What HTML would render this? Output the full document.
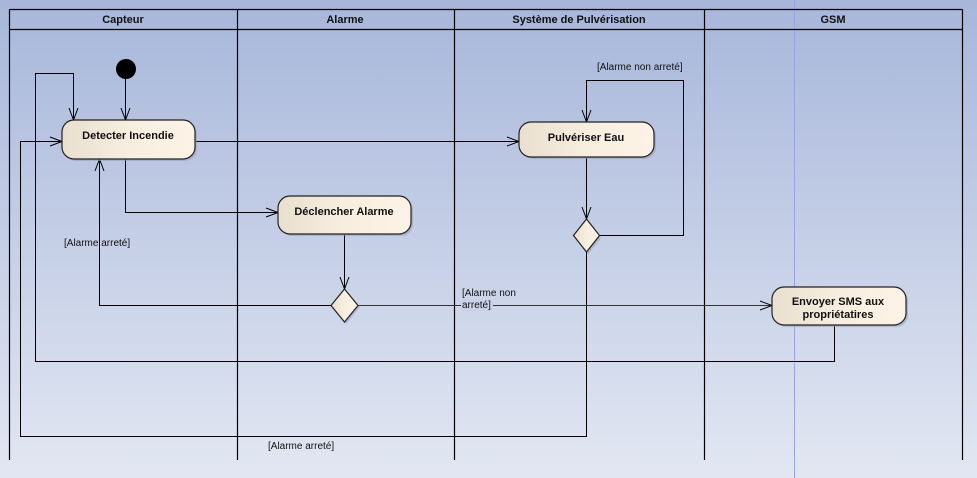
<!DOCTYPE html>
<html><head><meta charset="utf-8"><style>
html,body{margin:0;padding:0;width:977px;height:478px;overflow:hidden}
svg{display:block;font-family:"Liberation Sans",sans-serif}
</style></head><body>
<svg width="977" height="478" viewBox="0 0 977 478" xmlns="http://www.w3.org/2000/svg">
<defs>
<linearGradient id="bg" x1="0" y1="0" x2="0" y2="1"><stop offset="0" stop-color="#a7b6da"/><stop offset="1" stop-color="#e2e7f2"/></linearGradient>
<linearGradient id="nf" x1="0" y1="0" x2="1" y2="0"><stop offset="0" stop-color="#e8dfcf"/><stop offset="0.5" stop-color="#f8eee0"/><stop offset="1" stop-color="#fcf3e6"/></linearGradient>
</defs>
<rect width="977" height="478" fill="url(#bg)"/>
<line x1="794.5" y1="0" x2="794.5" y2="478" stroke="#9aa3e0" stroke-width="1"/>
<g stroke="#000" stroke-width="1.2" fill="none">
<line x1="9.5" y1="9.5" x2="962.5" y2="9.5"/>
<line x1="9.5" y1="29.5" x2="962.5" y2="29.5"/>
<line x1="9.5" y1="9.5" x2="9.5" y2="460"/>
<line x1="237.5" y1="9.5" x2="237.5" y2="460"/>
<line x1="454.5" y1="9.5" x2="454.5" y2="460"/>
<line x1="704.5" y1="9.5" x2="704.5" y2="460"/>
<line x1="962.5" y1="9.5" x2="962.5" y2="460"/>
</g>
<g font-size="11" font-weight="bold" text-anchor="middle" fill="#111">
<text x="123" y="23">Capteur</text>
<text x="345" y="23">Alarme</text>
<text x="579" y="23">Système de Pulvérisation</text>
<text x="833" y="23">GSM</text>
</g>
<g stroke="#000" stroke-width="1" fill="none">
<path d="M125.5 78 V120"/>
<path d="M834.5 325 V361.5 H35.5 V73.5 H73.5 V120"/>
<path d="M586.5 252 V436.5 H20.5 V141.5 H62"/>
<path d="M195 141.5 H519"/>
<path d="M125.5 159 V212.5 H278"/>
<path d="M344.5 234 V289"/>
<path d="M331 305.5 H99.5 V159"/>
<path d="M358 305.5 H772" stroke="#333"/>
<path d="M586.5 157 V219"/>
<path d="M599 235.5 H683.5 V80.5 H586.5 V122"/>
<path d="M121 108 L125.5 120 L130 108"/>
<path d="M69 108 L73.5 120 L78 108"/>
<path d="M50 137 L62 141.5 L50 146"/>
<path d="M507 137 L519 141.5 L507 146"/>
<path d="M266 208 L278 212.5 L266 217"/>
<path d="M340 277 L344.5 289 L349 277"/>
<path d="M95 171 L99.5 159 L104 171"/>
<path d="M760 301 L772 305.5 L760 310"/>
<path d="M582 207 L586.5 219 L591 207"/>
<path d="M582 110 L586.5 122 L591 110"/>
</g>
<circle cx="126" cy="69" r="10" fill="#000"/>
<g stroke="#222" stroke-width="1.2" fill="url(#nf)">
<rect x="64" y="122" width="133" height="39" rx="12" fill="#9aa0b4" stroke="none" opacity="0.6"/>
<rect x="62" y="120" width="133" height="39" rx="12"/>
<rect x="280" y="198" width="133" height="38" rx="12" fill="#9aa0b4" stroke="none" opacity="0.6"/>
<rect x="278" y="196" width="133" height="38" rx="12"/>
<rect x="521" y="124" width="135" height="35" rx="12" fill="#9aa0b4" stroke="none" opacity="0.6"/>
<rect x="519" y="122" width="135" height="35" rx="12"/>
<rect x="774" y="289" width="134" height="38" rx="12" fill="#9aa0b4" stroke="none" opacity="0.6"/>
<rect x="772" y="287" width="134" height="38" rx="12"/>
<path d="M346 291 L360 307 L346 324 L333 307 Z" fill="#9aa0b4" stroke="none" opacity="0.6"/>
<path d="M344.5 289 L358 305.5 L344.5 322 L331 305.5 Z"/>
<path d="M588 221 L601 238 L588 254 L575 238 Z" fill="#9aa0b4" stroke="none" opacity="0.6"/>
<path d="M586.5 219 L599.5 235.5 L586.5 252 L573.5 235.5 Z"/>
</g>
<g font-size="11" font-weight="bold" text-anchor="middle" fill="#111">
<text x="128" y="139">Detecter Incendie</text>
<text x="344" y="215">Déclencher Alarme</text>
<text x="586" y="141">Pulvériser Eau</text>
<text x="838" y="305">Envoyer SMS aux</text>
<text x="838" y="318">propriétatires</text>
</g>
<g font-size="10" fill="#111">
<text x="64" y="246">[Alarme arreté]</text>
<text x="597" y="70">[Alarme non arreté]</text>
<text x="462" y="296">[Alarme non</text>
<rect x="461" y="299" width="32" height="12" fill="#cad2e8"/>
<text x="462" y="308">arreté]</text>
<text x="268" y="449">[Alarme arreté]</text>
</g>
</svg>
</body></html>
